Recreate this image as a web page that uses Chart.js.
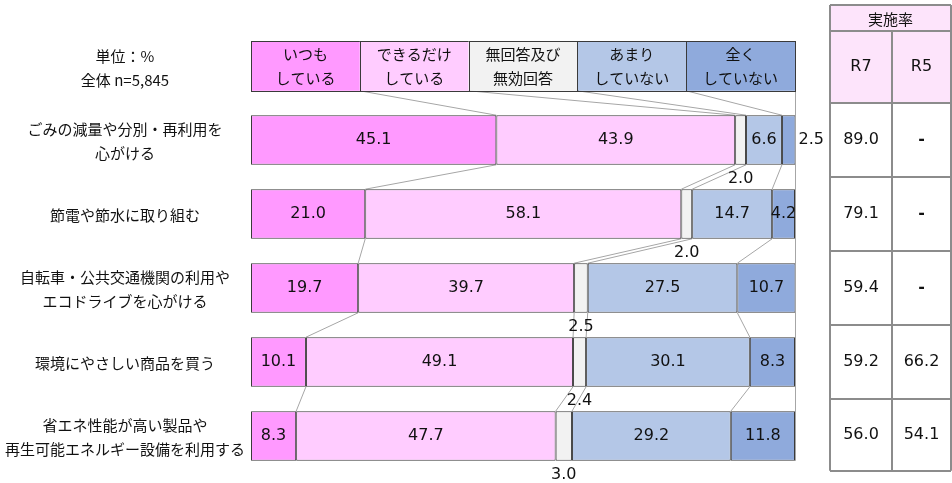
<!DOCTYPE html>
<html><head><meta charset="utf-8">
<script src="https://cdn.jsdelivr.net/npm/chart.js@4"></script>
<style>html,body{margin:0;padding:0;background:#fff;} #wrap{position:relative;width:952px;height:483px;}</style>
</head><body><div id="wrap"><canvas id="c" width="952" height="483"></canvas></div>
<script>
const categories = [['ごみの減量や分別・再利用を','心がける'], ['節電や節水に取り組む'], ['自転車・公共交通機関の利用や','エコドライブを心がける'], ['環境にやさしい商品を買う'], ['省エネ性能が高い製品や','再生可能エネルギー設備を利用する']];
const seriesNames = [['いつも','している'],['できるだけ','している'],['無回答及び','無効回答'],['あまり','していない'],['全く','していない']];
const always   = [45.1, 21.0, 19.7, 10.1, 8.3];
const possible = [43.9, 58.1, 39.7, 49.1, 47.7];
const noAnswer = [2.0, 2.0, 2.5, 2.4, 3.0];
const rarely   = [6.6, 14.7, 27.5, 30.1, 29.2];
const never    = [2.5, 4.2, 10.7, 8.3, 11.8];
const rateR7 = [89.0, 79.1, 59.4, 59.2, 56.0];
const rateR5 = [null, null, null, 66.2, 54.1];
const tableTitle = '実施率';
const tableCols = ['R7', 'R5'];
const unitLines = ['単位：%', '全体 n=5,845'];

const colors = ['#ff99ff', '#ffccff', '#f2f2f2', '#b4c7e7', '#8faadc'];
const seriesData = [always, possible, noAnswer, rarely, never];
const JP = '"Noto Sans CJK JP", sans-serif';
const NUM = '"DejaVu Sans", "Noto Sans CJK JP", sans-serif';

const labels = [''].concat(categories.map((c, i) => 'c' + i));
const datasets = seriesData.map((arr, k) => ({
  label: seriesNames[k].join(''),
  data: [null].concat(arr),
  backgroundColor: colors[k],
  borderColor: '#3a3a3a',
  borderWidth: 1,
  borderSkipped: false,
  categoryPercentage: 1,
  barPercentage: 0.67
}));

const deco = {
  id: 'deco',
  beforeDatasetsDraw(chart) {
    const ctx = chart.ctx, xs = chart.scales.x, ys = chart.scales.y;
    const meta = chart.getDatasetMeta(0);
    const h = meta.data[1].height;
    const rows = [[20, 40, 60, 80]];
    for (let r = 0; r < categories.length; r++) {
      let s = 0; const b = [];
      for (let k = 0; k < 4; k++) { s += seriesData[k][r]; b.push(s); }
      rows.push(b);
    }
    ctx.save();
    ctx.strokeStyle = '#a6a6a6';
    ctx.lineWidth = 1;
    for (let r = 0; r < rows.length - 1; r++) {
      const yb = ys.getPixelForValue(r) + h / 2;
      const yt = ys.getPixelForValue(r + 1) - h / 2;
      for (let k = 0; k < 4; k++) {
        ctx.beginPath();
        ctx.moveTo(xs.getPixelForValue(rows[r][k]), yb);
        ctx.lineTo(xs.getPixelForValue(rows[r + 1][k]), yt);
        ctx.stroke();
      }
    }
    const xr = xs.getPixelForValue(100);
    ctx.beginPath();
    ctx.moveTo(xr + 0.5, ys.getPixelForValue(0) + h / 2);
    ctx.lineTo(xr + 0.5, ys.getPixelForValue(categories.length) + h / 2);
    ctx.stroke();
    ctx.restore();
  },
  afterDatasetsDraw(chart) {
    const ctx = chart.ctx, xs = chart.scales.x, ys = chart.scales.y;
    const h = chart.getDatasetMeta(0).data[1].height;
    ctx.save();
    const yc0 = ys.getPixelForValue(0);
    for (let k = 0; k < 5; k++) {
      const x0 = xs.getPixelForValue(k * 20), x1 = xs.getPixelForValue((k + 1) * 20);
      ctx.fillStyle = colors[k];
      ctx.fillRect(x0, yc0 - h / 2, x1 - x0, h);
      ctx.strokeStyle = '#3a3a3a'; ctx.lineWidth = 1;
      ctx.strokeRect(Math.round(x0) + 0.5, Math.round(yc0 - h / 2) + 0.5, Math.round(x1 - x0), Math.round(h));
      ctx.fillStyle = '#111';
      ctx.font = '15px ' + JP;
      ctx.textAlign = 'center'; ctx.textBaseline = 'middle';
      ctx.fillText(seriesNames[k][0], (x0 + x1) / 2, yc0 - 12);
      ctx.fillText(seriesNames[k][1], (x0 + x1) / 2, yc0 + 12);
    }
    ctx.font = '16px ' + NUM;
    ctx.fillStyle = '#111';
    for (let k = 0; k < 5; k++) {
      const meta = chart.getDatasetMeta(k);
      for (let r = 0; r < categories.length; r++) {
        const el = meta.data[r + 1];
        const v = seriesData[k][r];
        const txt = v.toFixed(1);
        const left = Math.min(el.x, el.base), right = Math.max(el.x, el.base);
        const cx = (left + right) / 2;
        if (v < 3.5 && k === 4) {
          ctx.textAlign = 'left';
          ctx.fillText(txt, right + 3, el.y);
        } else if (v < 3.5) {
          ctx.textAlign = 'center';
          ctx.fillText(txt, cx, el.y + h / 2 + 14);
        } else {
          ctx.textAlign = 'center';
          ctx.fillText(txt, cx, el.y);
        }
      }
    }
    ctx.font = '15px ' + JP;
    ctx.textAlign = 'center';
    const lx = 125;
    const drawLines = (lines, y) => {
      const n = lines.length;
      lines.forEach((t, i) => ctx.fillText(t, lx, y + (i - (n - 1) / 2) * 24));
    };
    drawLines(unitLines, yc0 + 2);
    categories.forEach((c, i) => drawLines(c, ys.getPixelForValue(i + 1) + 1));
    // table
    const tx0 = 830, tx1 = 892, tx2 = 951;
    const top = 5, sub = 31;
    const headBottom = (ys.getPixelForValue(0) + h / 2 + ys.getPixelForValue(1) - h / 2) / 2;
    const bounds = [headBottom];
    for (let r = 1; r < categories.length; r++) {
      bounds.push((ys.getPixelForValue(r) + h / 2 + ys.getPixelForValue(r + 1) - h / 2) / 2);
    }
    const bottom = ys.getPixelForValue(categories.length) + h / 2 + 10;
    bounds.push(bottom);
    ctx.fillStyle = '#fde4fb';
    ctx.fillRect(tx0, top, tx2 - tx0, headBottom - top);
    ctx.strokeStyle = '#8c8c8c'; ctx.lineWidth = 2;
    ctx.beginPath();
    ctx.moveTo(tx0, top); ctx.lineTo(tx2, top);
    ctx.moveTo(tx0, sub); ctx.lineTo(tx2, sub);
    bounds.forEach(b => { ctx.moveTo(tx0, Math.round(b)); ctx.lineTo(tx2, Math.round(b)); });
    ctx.moveTo(tx0, top); ctx.lineTo(tx0, bottom);
    ctx.moveTo(tx1, sub); ctx.lineTo(tx1, bottom);
    ctx.moveTo(tx2, top); ctx.lineTo(tx2, bottom);
    ctx.stroke();
    ctx.fillStyle = '#111';
    ctx.font = '15px ' + JP;
    ctx.fillText(tableTitle, (tx0 + tx2) / 2, (top + sub) / 2 + 1);
    ctx.font = '16px ' + NUM;
    ctx.fillText(tableCols[0], (tx0 + tx1) / 2, (sub + headBottom) / 2);
    ctx.fillText(tableCols[1], (tx1 + tx2) / 2, (sub + headBottom) / 2);
    const fmt = (v, x, y) => {
      if (v == null) { ctx.font = 'bold 16px ' + NUM; ctx.fillText('-', x, y); ctx.font = '16px ' + NUM; }
      else ctx.fillText(v.toFixed(1), x, y);
    };
    for (let r = 0; r < categories.length; r++) {
      const yc = (bounds[r] + bounds[r + 1]) / 2;
      fmt(rateR7[r], (tx0 + tx1) / 2, yc);
      fmt(rateR5[r], (tx1 + tx2) / 2, yc);
    }
    ctx.restore();
  }
};

new Chart(document.getElementById('c'), {
  type: 'bar',
  data: { labels, datasets },
  options: {
    indexAxis: 'y',
    responsive: false,
    animation: false,
    layout: { padding: { left: 251, right: 157, top: 29, bottom: 10 } },
    plugins: { legend: { display: false }, tooltip: { enabled: false }, title: { display: false } },
    scales: {
      x: { stacked: true, min: 0, max: 100, display: false },
      y: { stacked: true, display: false, offset: true }
    }
  },
  plugins: [deco]
});
</script>
</body></html>
